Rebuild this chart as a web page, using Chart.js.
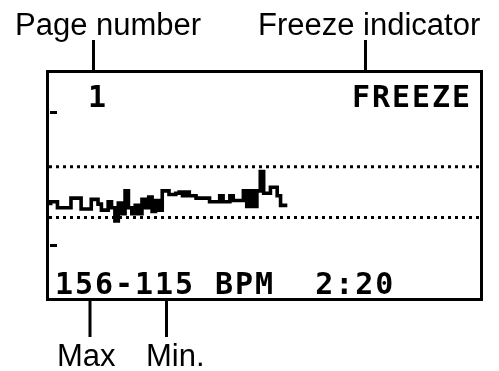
<!DOCTYPE html>
<html>

<head>
  <meta charset="UTF-8">
  <script src="https://cdn.jsdelivr.net/npm/chart.js"></script>
  <title>Heart rate - page 1</title>
  <style>
    body {
      margin: 0;
      background: #fff;
    }

    .tela {
      position: relative;
      width: 499px;
      height: 371px;
    }

    .rotulo {
      position: absolute;
      font-family: "Liberation Sans", Arial, sans-serif;
      font-size: 31px;
      line-height: 31px;
      color: #000;
      white-space: pre;
    }

    .lcd {
      position: absolute;
      font-family: "DejaVu Sans Mono", monospace;
      font-weight: bold;
      font-size: 30px;
      line-height: 30px;
      letter-spacing: 1.95px;
      color: #000;
      white-space: pre;
    }
  </style>
</head>

<body>
  <div class="tela">
    <canvas id="grafico" width="499" height="371"></canvas>

    <div class="rotulo" style="left:15px; top:9px;">Page number</div>
    <div class="rotulo" style="left:258px; top:9px;">Freeze indicator</div>
    <div class="rotulo" style="left:57px; top:340px;">Max</div>
    <div class="rotulo" style="left:146px; top:340px;">Min.</div>

    <div class="lcd" id="pagina" style="left:88px; top:82px;"></div>
    <div class="lcd" id="freeze" style="left:352px; top:82px;"></div>
    <div class="lcd" id="rodape" style="left:55px; top:269px;"></div>
  </div>

  <script>
    // heart rate samples, one every 2 seconds
    var passoSegundos = 2;
    var bpm = [
      128, 131, 131, 126, 126, 126, 126, 134, 134, 134,
      125, 125, 125, 133, 133, 129, 124, 124, 131, 126,
      115, 130, 121, 140, 126, 121, 128, 121, 133, 126,
      135, 123, 132, 124, 140, 140, 137, 137, 138, 139,
      136, 139, 136, 136, 134, 134, 134, 134, 131, 131,
      131, 136, 131, 131, 136, 132, 132, 132, 140, 127,
      140, 127, 140, 156, 138, 138, 143, 143, 136, 128,
      128
    ];

    // zone limits (dotted lines) and the small marks on the left edge
    var limitesZona = [160, 118];
    var marcasBpm = [206, 95];

    var pagina = "1";
    var freeze = "FREEZE";
    var bpmMax = 156;
    var bpmMin = 115;
    var tempo = "2:20";

    document.getElementById("pagina").textContent = pagina;
    document.getElementById("freeze").textContent = freeze;
    document.getElementById("rodape").textContent = bpmMax + "-" + bpmMin + " BPM  " + tempo;

    var xMin = -1;
    var xMax = 254;

    var pontos = [];
    for (var i = 0; i < bpm.length; i++) {
      pontos.push({ x: i * passoSegundos, y: bpm[i] });
    }

    var datasets = [{
      data: pontos,
      borderColor: "#000",
      borderWidth: 3.6,
      stepped: "after",
      pointRadius: 0,
      borderCapStyle: "butt",
      borderJoinStyle: "miter",
      fill: false
    }];

    limitesZona.forEach(function (valor) {
      datasets.push({
        data: [{ x: xMin, y: valor }, { x: xMax - 0.6, y: valor }],
        borderColor: "#000",
        borderWidth: 3,
        borderDash: [3, 4],
        borderCapStyle: "butt",
        pointRadius: 0,
        fill: false
      });
    });

    // frame of the display, edge marks and the leader lines
    var moldura = {
      id: "moldura",
      afterDraw: function (chart) {
        var ctx = chart.ctx;
        var area = chart.chartArea;
        var y = chart.scales.y;

        ctx.save();
        ctx.strokeStyle = "#000";
        ctx.fillStyle = "#000";
        ctx.lineWidth = 3;
        ctx.strokeRect(area.left - 1.5, area.top - 1.5,
          area.right - area.left + 3, area.bottom - area.top + 3);

        marcasBpm.forEach(function (valor) {
          var py = Math.round(y.getPixelForValue(valor));
          ctx.fillRect(area.left + 1, py - 1, 7, 3);
        });

        ctx.lineWidth = 3;
        ctx.beginPath();
        ctx.moveTo(93.5, 40); ctx.lineTo(93.5, area.top - 3);
        ctx.moveTo(365.5, 40); ctx.lineTo(365.5, area.top - 3);
        ctx.moveTo(90, area.bottom + 3); ctx.lineTo(90, 337);
        ctx.moveTo(166.5, area.bottom + 3); ctx.lineTo(166.5, 337);
        ctx.stroke();
        ctx.restore();
      }
    };

    new Chart(document.getElementById("grafico"), {
      type: "line",
      data: { datasets: datasets },
      options: {
        responsive: false,
        animation: false,
        devicePixelRatio: 1,
        layout: {
          padding: { left: 49, top: 73, right: 19, bottom: 73 }
        },
        plugins: {
          legend: { display: false },
          tooltip: { enabled: false }
        },
        scales: {
          x: { type: "linear", min: xMin, max: xMax, display: false },
          y: { min: 51, max: 238, display: false }
        }
      },
      plugins: [moldura]
    });
  </script>
</body>

</html>
